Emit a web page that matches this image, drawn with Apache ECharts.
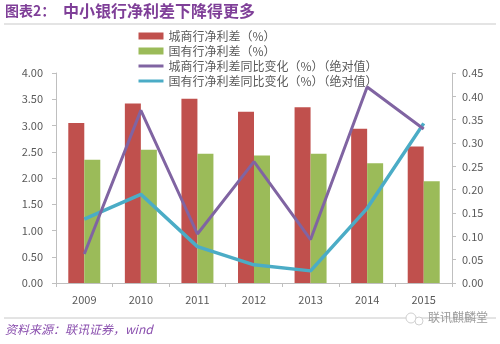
<!DOCTYPE html>
<html>
<head>
<meta charset="utf-8">
<script src="https://cdn.jsdelivr.net/npm/echarts@6/dist/echarts.min.js"></script>
<style>
html,body{margin:0;padding:0;background:#fff;}
#c{width:500px;height:344px;}
</style>
</head>
<body>
<div id="c"></div>
<script>
var years = ['2009','2010','2011','2012','2013','2014','2015'];
var cityNIM = [3.05, 3.42, 3.51, 3.26, 3.35, 2.94, 2.60];
var stateNIM = [2.35, 2.54, 2.46, 2.43, 2.46, 2.28, 1.94];
var cityChg = [0.062, 0.370, 0.105, 0.260, 0.093, 0.420, 0.330];
var stateChg = [0.137, 0.190, 0.078, 0.039, 0.026, 0.160, 0.342];
var leftTicks = ['0.00','0.50','1.00','1.50','2.00','2.50','3.00','3.50','4.00'];
var rightTicks = ['0.00','0.05','0.10','0.15','0.20','0.25','0.30','0.35','0.40','0.45'];
var names = ['城商行净利差（%）','国有行净利差（%）','城商行净利差同比变化（%）（绝对值）','国有行净利差同比变化（%）（绝对值）'];

var chart = echarts.init(document.getElementById('c'), null, {renderer:'canvas'});
var axisColor = '#BFBFBF';
var labelColor = '#595959';
var font = '"Microsoft YaHei","Noto Sans CJK SC",sans-serif';
chart.setOption({
  animation: false,
  backgroundColor: '#fff',
  textStyle: {fontFamily: font},
  grid: {left: 56, right: 48, top: 73, bottom: 61, containLabel: false},
  legend: {
    orient: 'vertical', left: 137, top: 30, padding: 0, itemGap: 3,
    itemWidth: 25, itemHeight: 7,
    textStyle: {color: labelColor, fontSize: 12, fontFamily: font},
    data: [
      {name: names[0], icon: 'rect'},
      {name: names[1], icon: 'rect'},
      {name: names[2], itemStyle: {opacity: 0}, lineStyle: {width: 3}},
      {name: names[3], itemStyle: {opacity: 0}, lineStyle: {width: 3}}
    ]
  },
  xAxis: {
    type: 'category', data: years,
    axisLine: {lineStyle: {color: axisColor}},
    axisTick: {show: true, length: 4, lineStyle: {color: axisColor}},
    axisLabel: {color: labelColor, fontSize: 11, margin: 11}
  },
  yAxis: [
    {
      type: 'value', min: 0, max: 4, interval: 0.5,
      axisLine: {show: true, lineStyle: {color: axisColor}},
      axisTick: {show: true, length: 4, lineStyle: {color: axisColor}},
      splitLine: {show: false},
      axisLabel: {color: labelColor, fontSize: 11, margin: 13,
        formatter: function(v){ return leftTicks[Math.round(v/0.5)]; }}
    },
    {
      type: 'value', min: 0, max: 0.45, interval: 0.05,
      axisLine: {show: true, lineStyle: {color: axisColor}},
      axisTick: {show: true, length: 4, lineStyle: {color: axisColor}},
      splitLine: {show: false},
      axisLabel: {color: labelColor, fontSize: 11, margin: 10,
        formatter: function(v){ return rightTicks[Math.round(v/0.05)]; }}
    }
  ],
  series: [
    {name: names[0], type: 'bar', data: cityNIM, barWidth: 16, barGap: '0%',
     itemStyle: {color: '#C0504D'}},
    {name: names[1], type: 'bar', data: stateNIM, barWidth: 16,
     itemStyle: {color: '#9BBB59'}},
    {name: names[3], type: 'line', yAxisIndex: 1, data: stateChg, showSymbol: false, symbol: 'none',
     itemStyle: {color: '#4BACC6'}, lineStyle: {color: '#4BACC6', width: 3.5}, z: 3},
    {name: names[2], type: 'line', yAxisIndex: 1, data: cityChg, showSymbol: false, symbol: 'none',
     itemStyle: {color: '#8064A2'}, lineStyle: {color: '#8064A2', width: 3}, z: 4}
  ],
  graphic: [
    {type: 'text', left: 5, top: 4, style: {text: '图表2：', fill: '#7F3F98', font: 'bold 14px ' + font}},
    {type: 'text', left: 63, top: 3, style: {text: '中小银行净利差下降得更多', fill: '#7F3F98', font: 'bold 16px ' + font}},
    {type: 'rect', shape: {x: 4, y: 23, width: 492, height: 2}, style: {fill: '#E4E4E4'}},
    {type: 'line', shape: {x1: 4, y1: 318, x2: 496, y2: 318}, style: {stroke: '#C8C8C8', lineWidth: 1}},
    {type: 'text', left: 5, top: 323, style: {text: '资料来源：联讯证券，wind', fill: '#8A4FAE', font: 'italic 12px ' + font}},
    {type: 'text', left: 428, top: 311, style: {text: '联讯麒麟堂', fill: '#9A9A9A', font: '12px ' + font}},
    {type: 'circle', shape: {cx: 411, cy: 318, r: 5}, style: {fill: '#fff', stroke: '#D0D0D0', lineWidth: 1}},
    {type: 'circle', shape: {cx: 419, cy: 321, r: 4}, style: {fill: '#fff', stroke: '#D0D0D0', lineWidth: 1}}
  ]
});
</script>
</body>
</html>
